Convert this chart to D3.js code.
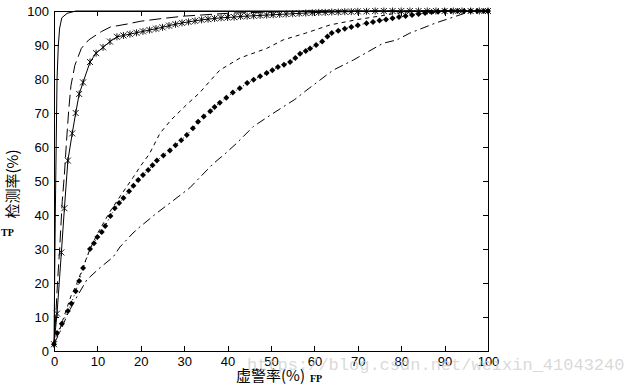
<!DOCTYPE html>
<html>
<head>
<meta charset="utf-8">
<script src="https://cdn.jsdelivr.net/npm/d3@7"></script>
<style>
  body { margin: 0; background: #fff; }
  svg { display: block; }
  .tick text { font-family: "Liberation Sans", Arial, sans-serif; font-size: 13px; fill: #000; }
  .tick line { shape-rendering: crispEdges; }
</style>
</head>
<body>
<div id="chart"></div>
<script>
// ROC curves, values (FP %, TP %)
var solidLine = [[0,2],[0.3,40],[0.5,60],[0.7,80],[1,90],[1.3,95],[1.8,98],[3,99.3],[5,100],[100,100]];

var longDash = [[0,2],[0.4,10],[0.8,20],[1.3,30],[1.9,44],[2.4,52],[2.9,62],[3.4,71],[3.9,78],[4.8,84],
  [6.3,89],[8,91.5],[11,94],[13,95.3],[17,96.2],[20,97],[25,97.8],[30,98.5],[41,99.4],[50,99.7],[60,100],[100,100]];

var starLine = [[0,2],[0.7,11],[1.7,29],[2.4,42],[3.2,56],[4.2,64],[5,70],[5.8,75.6],[6.7,79],[8.3,85],
  [9.7,87.6],[11.3,89.3],[12.9,91],[14.5,92.4],[16,92.8],[17.5,93.2],[19,93.6],[20.5,94],[22,94.4],[23.5,94.8],
  [25,95.2],[26.5,95.7],[28,96.1],[29.5,96.5],[31,96.8],[32.5,97.1],[34,97.4],[35.5,97.6],[37,97.8],[38.5,98],
  [40,98.1],[41.5,98.2],[43,98.4],[44.5,98.5],[46,98.6],[47.5,98.7],[49,98.8],[50.5,98.9],[52,99],[53.5,99.1],
  [55,99.2],[56.5,99.3],[58,99.4],[59.5,99.5],[61,99.6],[62.5,99.6],[64,99.7],[65.5,99.7],[67,99.8],[68.5,99.8],
  [70,99.9],[72,99.9],[74,100],[76,100],[78,100],[80,100],[82,100],[84,100],[86,100],[88,100],[90,100],
  [92,100],[94,100],[96,100],[98,100],[100,100]];

var shortDash = [[0,2],[1,5],[2,9],[3.2,13.5],[4,16.5],[5,19],[6.5,24],[8.3,30],[10,34.5],[12.9,41],[15.5,46],
  [18.2,51],[20,54.5],[22,58],[24.4,64],[27,68],[30.6,72.5],[33.6,76],[36,79.5],[38.2,82.6],[42.9,86.2],[49,89],
  [52.8,91.5],[58,93.5],[63.6,95.9],[70,97.5],[75,98.5],[79,99.4],[84,100],[100,100]];

var diamondLine = [[0,2],[0.7,5.3],[1.8,8],[3.2,11.8],[4,14],[5,17.6],[5.8,20.6],[6.7,24.4],[8.3,30],[9.2,31.7],
  [10,33.5],[11,35],[11.8,36.8],[13,39.7],[14,42],[15,43.5],[16,45],[17.3,47],[18.3,48.6],[19.4,50.3],[20.5,51.8],
  [21.7,53.2],[22.7,54.6],[23.7,56],[25.2,57.5],[26.7,59],[28,60.5],[29.3,62],[30.6,63.5],[32,65.5],[33.2,67.4],
  [34.5,69],[36,70.5],[37,71.8],[38.2,73],[39.7,74.5],[41.2,76],[42.8,77.3],[44.5,78.8],[46,79.8],[47.5,80.8],
  [49,81.8],[50.3,82.6],[51.6,83.5],[53,84.2],[54.4,85],[55.6,86.2],[56.7,87.4],[58,88.2],[59,89],[60.4,90],
  [61.8,91],[63,92.5],[64,93.5],[65.5,94.2],[67,94.8],[68.5,95.3],[70,95.8],[72,96.4],[73.5,96.8],[75,97.2],
  [76.5,97.5],[78,97.9],[79.5,98.2],[81,98.5],[82.5,98.8],[84,99.1],[85.5,99.4],[87,99.7],[88.5,99.8],[90,100],
  [91.5,100],[93,100],[94.5,100],[96,100],[97.5,100],[99,100],[100,100]];

var dashDot = [[0,2],[1.5,6],[3.2,11],[5.3,16],[7.6,21],[10.6,24.5],[13.6,27.6],[15.2,30.6],[18.2,34.7],[19.8,36.5],
  [23.7,40.6],[26.7,43.5],[31.3,48],[36.6,55],[39.4,58],[42,61],[45.9,66],[50,69.5],[52.8,71.8],[55.5,74],
  [58.3,76.8],[64.3,82.6],[69,85.6],[75.8,90.5],[79,91.5],[82,93.5],[85,95],[88,96.5],[92,98.2],[95,99.5],
  [97,100],[100,100]];

var xTicks = [0,10,20,30,40,50,60,70,80,90,100];
var yTicks = [0,10,20,30,40,50,60,70,80,90,100];

var width = 640;
var height = 388;
// plot box in pixels
var boxL = 54, boxR = 488, boxT = 11, boxB = 351;

var svg = d3.select("#chart")
  .append("svg")
  .attr("width", width)
  .attr("height", height);

var x = d3.scaleLinear().domain([0, 100]).range([boxL, boxR]);
var y = d3.scaleLinear().domain([0, 100]).range([boxB, boxT]);

// axes, ticks pointing inward
svg.append("g")
  .attr("transform", "translate(0," + boxB + ")")
  .call(d3.axisBottom(x).tickValues(xTicks).tickSizeInner(-5).tickSizeOuter(0).tickPadding(6));
svg.append("g")
  .attr("transform", "translate(" + boxL + ",0)")
  .call(d3.axisLeft(y).tickValues(yTicks).tickSizeInner(-5).tickSizeOuter(0).tickPadding(5));
svg.append("g")
  .attr("transform", "translate(0," + boxT + ")")
  .call(d3.axisTop(x).tickValues(xTicks).tickSizeInner(-5).tickSizeOuter(0).tickFormat(""));
svg.append("g")
  .attr("transform", "translate(" + boxR + ",0)")
  .call(d3.axisRight(y).tickValues(yTicks).tickSizeInner(-5).tickSizeOuter(0).tickFormat(""));

svg.selectAll(".domain").remove();
svg.selectAll(".tick line").attr("stroke", "#000");

svg.append("rect")
  .attr("x", boxL + 0.5).attr("y", boxT + 0.5)
  .attr("width", boxR - boxL).attr("height", boxB - boxT)
  .attr("fill", "none").attr("stroke", "#000").attr("stroke-width", 1)
  .attr("shape-rendering", "crispEdges");

var line = d3.line().x(d => x(d[0])).y(d => y(d[1]));

function drawLine(data, dash) {
  svg.append("path")
    .datum(data)
    .attr("d", line)
    .attr("fill", "none")
    .attr("stroke", "#000")
    .attr("stroke-width", 1)
    .attr("stroke-dasharray", dash);
}

drawLine(solidLine, null);
drawLine(longDash, "12,5");
drawLine(shortDash, "4,4");
drawLine(dashDot, "9,4,2,4");
drawLine(starLine, null);
drawLine(diamondLine, "1,3");

// asterisk markers
svg.append("g")
  .selectAll("path")
  .data(starLine)
  .enter()
  .append("path")
  .attr("transform", d => "translate(" + x(d[0]) + "," + y(d[1]) + ")")
  .attr("d", "M-3,-3L3,3M-3,3L3,-3M0,-3.5L0,3.5")
  .attr("stroke", "#000")
  .attr("stroke-width", 0.9)
  .attr("fill", "none");

// filled diamond markers
svg.append("g")
  .selectAll("path")
  .data(diamondLine)
  .enter()
  .append("path")
  .attr("transform", d => "translate(" + x(d[0]) + "," + y(d[1]) + ")")
  .attr("d", "M0,-3L3,0L0,3L-3,0Z")
  .attr("fill", "#000");

// axis titles
svg.append("text")
  .attr("x", 236).attr("y", 381)
  .attr("font-family", "'Noto Sans CJK SC', sans-serif")
  .attr("font-size", 15)
  .text("虚警率(%)");
svg.append("text")
  .attr("x", 310).attr("y", 382)
  .attr("font-family", "'Liberation Serif', serif")
  .attr("font-size", 10)
  .attr("font-weight", "bold")
  .text("FP");

svg.append("text")
  .attr("transform", "translate(18,184) rotate(-90)")
  .attr("text-anchor", "middle")
  .attr("font-family", "'Noto Sans CJK SC', sans-serif")
  .attr("font-size", 15)
  .text("检测率(%)");
svg.append("text")
  .attr("x", 1).attr("y", 236)
  .attr("font-family", "'Liberation Serif', serif")
  .attr("font-size", 10)
  .attr("font-weight", "bold")
  .text("TP");

// watermark
svg.append("text")
  .attr("x", 247).attr("y", 370)
  .attr("font-family", "'Liberation Mono', monospace")
  .attr("font-size", 17)
  .attr("fill", "#cfcfcf")
  .attr("fill-opacity", 0.8)
  .text("https://blog.csdn.net/weixin_41043240");
</script>
</body>
</html>
